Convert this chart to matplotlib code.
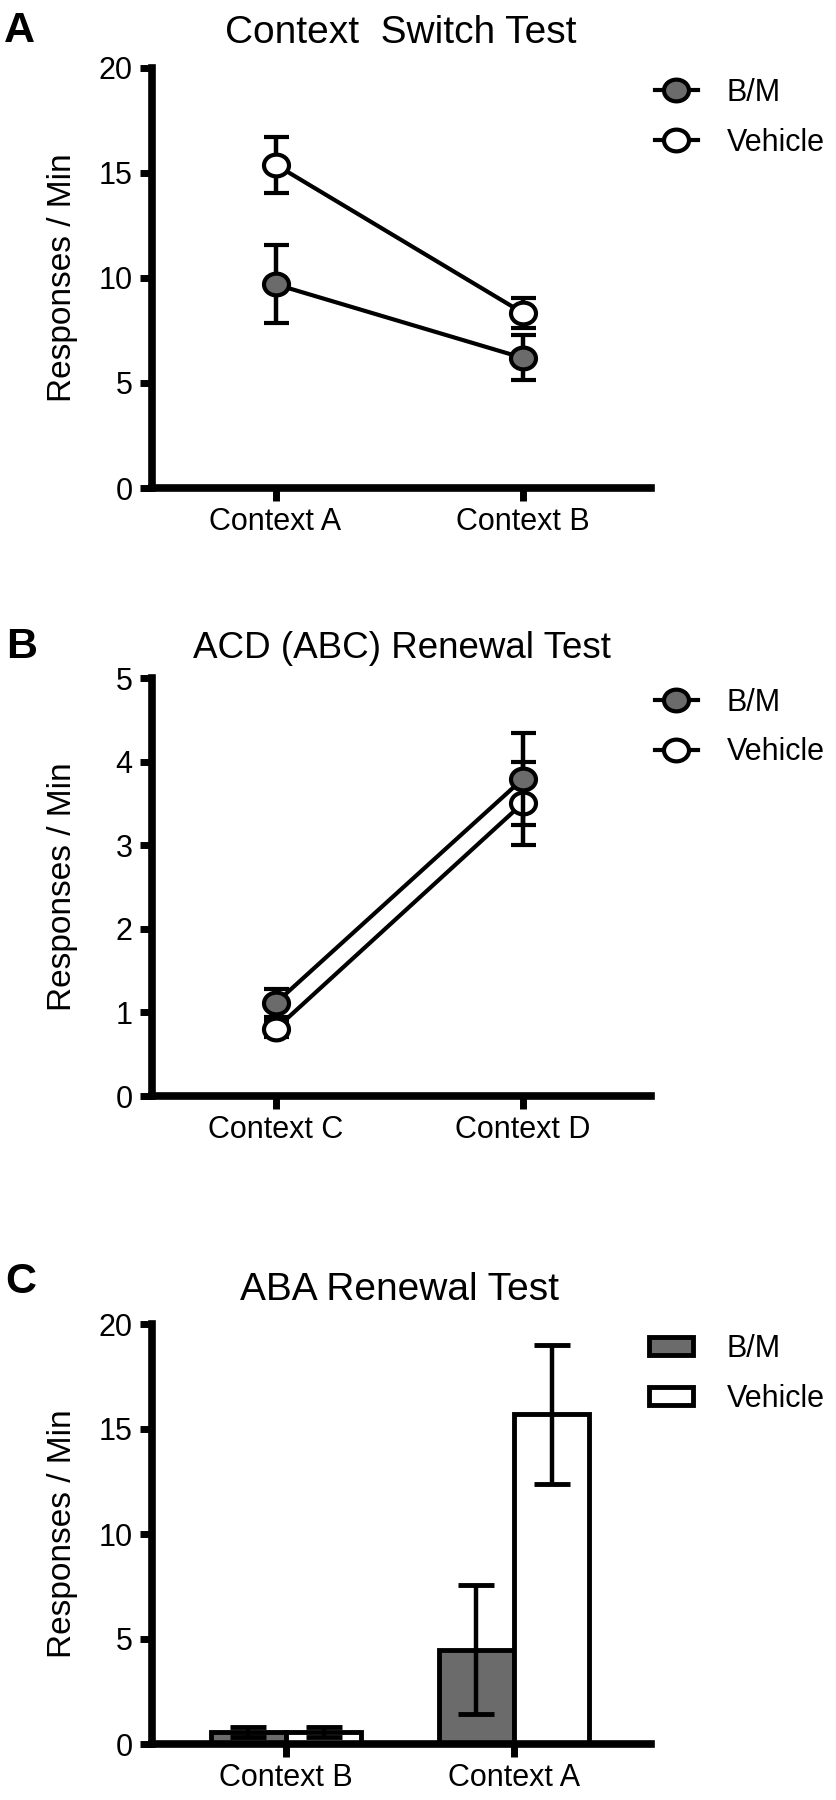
import matplotlib
matplotlib.use('Agg')
import matplotlib.pyplot as plt
from matplotlib.path import Path
from matplotlib.transforms import Affine2D

plt.rcParams['font.family'] = ['Liberation Sans', 'DejaVu Sans']

# ---- data ----
groups = ['B/M', 'Vehicle']

# A: context switch test
a_contexts = ['Context A', 'Context B']
a_bm = [9.7, 6.2]
a_bm_err = [1.86, 1.07]
a_veh = [15.4, 8.35]
a_veh_err = [1.33, 0.72]

# B: ACD (ABC) renewal test
b_contexts = ['Context C', 'Context D']
b_bm = [1.11, 3.79]
b_bm_err = [0.17, 0.55]
b_veh = [0.8, 3.5]
b_veh_err = [0.1, 0.5]

# C: ABA renewal test
c_contexts = ['Context B', 'Context A']
c_bm = [0.57, 4.5]
c_bm_err = [0.25, 3.05]
c_veh = [0.57, 15.7]
c_veh_err = [0.25, 3.3]

GRAY = '#6b6b6b'
W, H = 836, 1800

# slightly wide ellipse, the original figure is stretched sideways
ellipse = Path.unit_circle().transformed(Affine2D().scale(1.15, 1.0))

fig = plt.figure(figsize=(W / 100, H / 100), dpi=100)


def style_axes(ax, yticks):
    for s in ['top', 'right']:
        ax.spines[s].set_visible(False)
    for s in ['left', 'bottom']:
        ax.spines[s].set_linewidth(5.5)
    ax.tick_params(axis='both', width=5, length=9, labelsize=22)
    ax.tick_params(axis='y', pad=5)
    ax.tick_params(axis='x', pad=4.5)
    ax.set_yticks(yticks)
    ax.set_ylim(yticks[0], yticks[-1])
    ax.set_ylabel('Responses / Min', fontsize=24)
    ax.yaxis.set_label_coords(-0.148, 0.5)


def line_panel(ax, contexts, bm, bm_err, veh, veh_err):
    x = list(range(len(contexts)))
    kw = dict(fmt='-', marker=ellipse, ms=18, mew=3, mec='black', color='black',
              lw=3, elinewidth=3.2, capsize=9, capthick=3.5)
    veh_c = ax.errorbar(x, veh, yerr=veh_err, mfc='white', zorder=3, **kw)
    bm_c = ax.errorbar(x, bm, yerr=bm_err, mfc=GRAY, zorder=4, **kw)
    for c in (veh_c, bm_c):
        c[0].set_clip_on(False)
    ax.set_xticks(x)
    ax.set_xticklabels(contexts)
    ax.set_xlim(-0.5, 1.52)
    ax.legend([bm_c[0], veh_c[0]], groups, loc='upper left', bbox_to_anchor=(1.008, 0.977),
              frameon=False, borderpad=0, borderaxespad=0, handlelength=1.4,
              handletextpad=0.95, labelspacing=0.65, fontsize=22)


axA = fig.add_axes([152 / W, 1 - 488 / H, 499 / W, 420 / H])
style_axes(axA, [0, 5, 10, 15, 20])
line_panel(axA, a_contexts, a_bm, a_bm_err, a_veh, a_veh_err)

axB = fig.add_axes([152 / W, 1 - 1096 / H, 499 / W, 418 / H])
style_axes(axB, [0, 1, 2, 3, 4, 5])
line_panel(axB, b_contexts, b_bm, b_bm_err, b_veh, b_veh_err)

axC = fig.add_axes([152 / W, 1 - 1744 / H, 499 / W, 420 / H])
style_axes(axC, [0, 5, 10, 15, 20])
xc = list(range(len(c_contexts)))
bw = 0.33
bars_bm = axC.bar([i - bw / 2 for i in xc], c_bm, width=bw, color=GRAY,
                  edgecolor='black', linewidth=3.5, zorder=2)
bars_veh = axC.bar([i + bw / 2 for i in xc], c_veh, width=bw, color='white',
                   edgecolor='black', linewidth=3.5, zorder=2)
axC.errorbar([i - bw / 2 for i in xc], c_bm, yerr=c_bm_err, fmt='none', ecolor='black',
             elinewidth=3.2, capsize=13, capthick=3.5, zorder=3)
axC.errorbar([i + bw / 2 for i in xc], c_veh, yerr=c_veh_err, fmt='none', ecolor='black',
             elinewidth=3.2, capsize=13, capthick=3.5, zorder=3)
axC.set_xticks(xc)
axC.set_xticklabels(c_contexts)
axC.set_xlim(-0.588, 1.601)
axC.legend([bars_bm, bars_veh], groups, loc='upper left', bbox_to_anchor=(0.996, 0.977),
           frameon=False, borderpad=0, borderaxespad=0, handlelength=1.44,
           handleheight=0.55, handletextpad=1.1, labelspacing=0.65, fontsize=22)

# panel letters and titles
fig.text(4 / W, 1 - 42 / H, 'A', fontsize=31, fontweight='bold', va='baseline')
fig.text(6 / W, 1 - 658 / H, 'B', fontsize=31, fontweight='bold', va='baseline')
fig.text(5 / W, 1 - 1293 / H, 'C', fontsize=31, fontweight='bold', va='baseline')
fig.text(401 / W, 1 - 43 / H, 'Context  Switch Test', fontsize=28, ha='center', va='baseline')
fig.text(402 / W, 1 - 658 / H, 'ACD (ABC) Renewal Test', fontsize=26.5, ha='center', va='baseline')
fig.text(400 / W, 1 - 1300 / H, 'ABA Renewal Test', fontsize=28, ha='center', va='baseline')

fig.savefig('out.png', dpi=100)
